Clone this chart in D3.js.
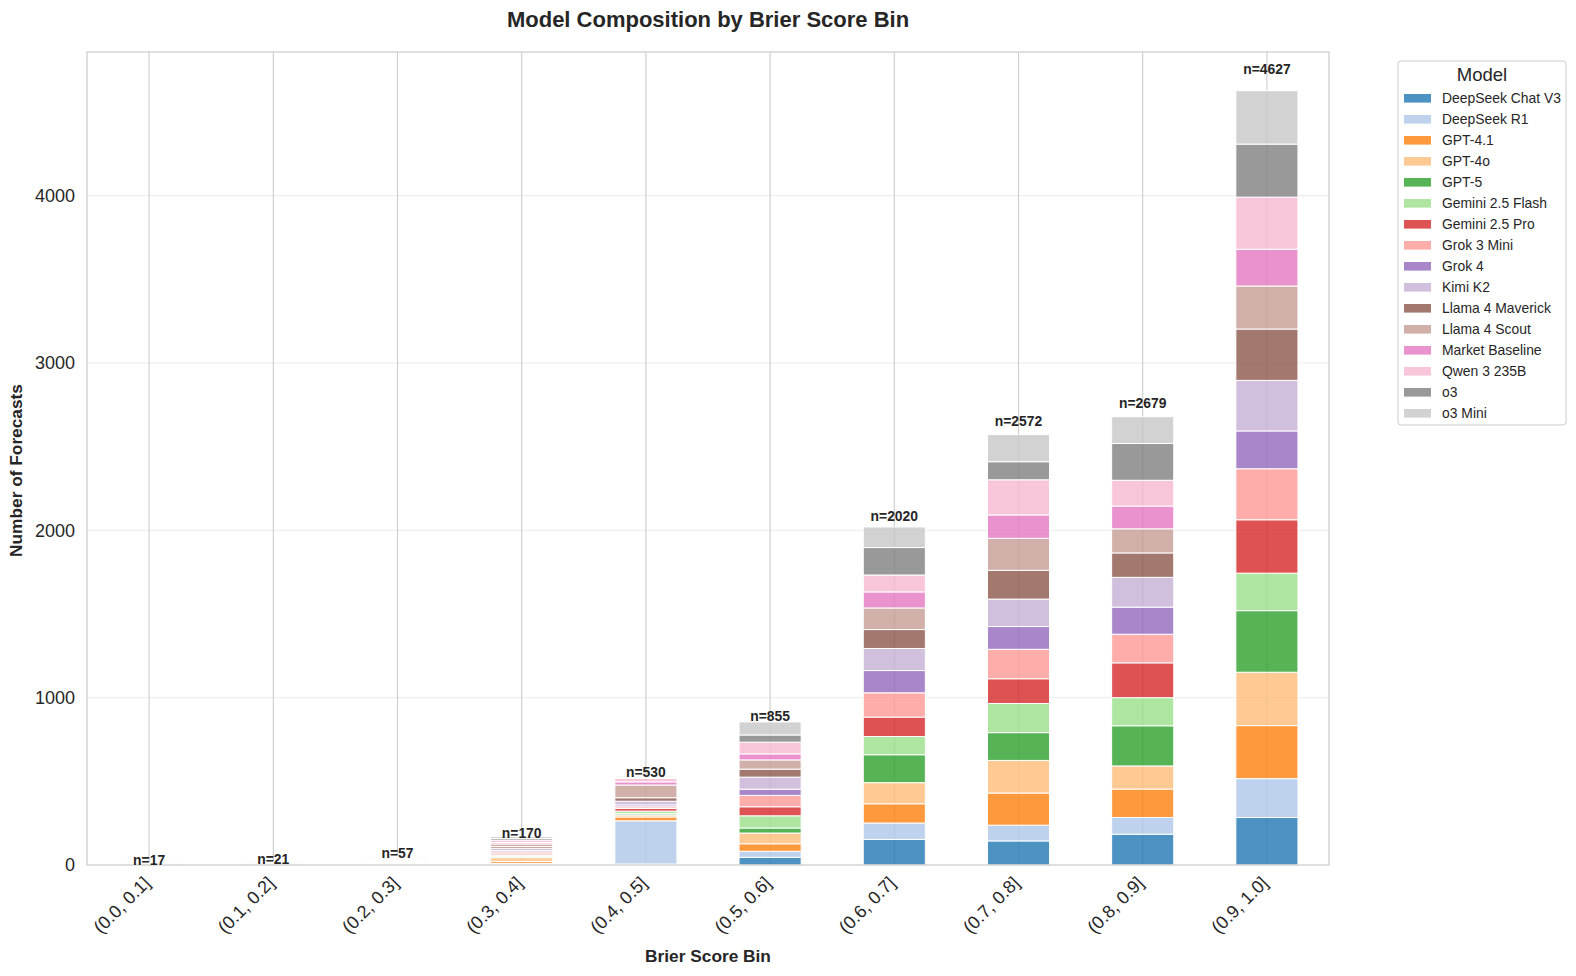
<!DOCTYPE html>
<html>
<head>
<meta charset="utf-8">
<script src="https://cdn.jsdelivr.net/npm/d3@7/dist/d3.min.js"></script>
<style>
  html, body { margin: 0; padding: 0; background: #fff; overflow: hidden; }
  svg { display: block; font-family: "Liberation Sans", Arial, sans-serif; }
</style>
</head>
<body>
<svg id="chart" width="1576" height="976"></svg>
<script>
// ---- data ----
const bins = ["(0.0, 0.1]", "(0.1, 0.2]", "(0.2, 0.3]", "(0.3, 0.4]", "(0.4, 0.5]",
              "(0.5, 0.6]", "(0.6, 0.7]", "(0.7, 0.8]", "(0.8, 0.9]", "(0.9, 1.0]"];
const models = ["DeepSeek Chat V3", "DeepSeek R1", "GPT-4.1", "GPT-4o", "GPT-5",
                "Gemini 2.5 Flash", "Gemini 2.5 Pro", "Grok 3 Mini", "Grok 4", "Kimi K2",
                "Llama 4 Maverick", "Llama 4 Scout", "Market Baseline", "Qwen 3 235B", "o3", "o3 Mini"];
const deepseekChatV3 = [0, 0, 0, 2, 6, 46, 153, 144, 184, 284];
const deepseekR1     = [0, 1, 2, 8, 258, 36, 98, 94, 100, 232];
const gpt41          = [1, 2, 4, 12, 23, 45, 115, 192, 170, 317];
const gpt4o          = [2, 2, 6, 22, 12, 64, 126, 195, 138, 319];
const gpt5           = [0, 1, 3, 8, 8, 30, 167, 166, 240, 368];
const geminiFlash    = [1, 1, 3, 6, 15, 73, 109, 174, 168, 224];
const geminiPro      = [1, 1, 3, 8, 16, 54, 116, 148, 208, 319];
const grok3Mini      = [1, 1, 4, 12, 10, 68, 145, 176, 171, 305];
const grok4          = [1, 1, 3, 8, 11, 37, 133, 136, 162, 226];
const kimiK2         = [2, 2, 5, 14, 22, 72, 132, 164, 178, 302];
const llamaMaverick  = [1, 2, 3, 10, 21, 48, 113, 172, 146, 307];
const llamaScout     = [2, 2, 5, 16, 76, 55, 129, 191, 144, 257];
const marketBaseline = [1, 1, 3, 8, 19, 36, 96, 140, 136, 220];
const qwen3          = [2, 2, 6, 14, 20, 70, 101, 210, 154, 311];
const o3             = [1, 1, 3, 10, 5, 43, 164, 108, 220, 317];
const o3Mini         = [1, 1, 4, 12, 8, 78, 123, 162, 160, 319];
const yTicks = [0, 1000, 2000, 3000, 4000];

const seriesValues = [deepseekChatV3, deepseekR1, gpt41, gpt4o, gpt5, geminiFlash, geminiPro,
  grok3Mini, grok4, kimiK2, llamaMaverick, llamaScout, marketBaseline, qwen3, o3, o3Mini];
const colors = ["#1f77b4", "#aec7e8", "#ff7f0e", "#ffbb78", "#2ca02c", "#98df8a", "#d62728", "#ff9896",
                "#9467bd", "#c5b0d5", "#8c564b", "#c49c94", "#e377c2", "#f7b6d2", "#7f7f7f", "#c7c7c7"];

// ---- build table ----
const table = bins.map((b, i) => {
  const row = { bin: b };
  models.forEach((m, j) => { row[m] = seriesValues[j][i]; });
  return row;
});
const totals = bins.map((b, i) => d3.sum(seriesValues, s => s[i]));
const stack = d3.stack().keys(models)(table);

// ---- layout ----
const svg = d3.select("#chart");
const L = 87, R = 1329, T = 52, B = 865;
const x = d3.scaleBand().domain(bins).range([L, R]).paddingInner(0.5).paddingOuter(0.25);
const yMax = d3.max(totals) * 1.05;
const y = d3.scaleLinear().domain([0, yMax]).range([B, T]);
const cx = d => x(d) + x.bandwidth() / 2;

// grid
const g = svg.append("g");
g.selectAll(".hgrid").data(yTicks.filter(t => t > 0)).join("line")
  .attr("x1", L).attr("x2", R).attr("y1", d => y(d)).attr("y2", d => y(d))
  .attr("stroke", "#ebebeb").attr("stroke-width", 1);
g.selectAll(".vgrid").data(bins).join("line")
  .attr("x1", cx).attr("x2", cx)
  .attr("y1", T).attr("y2", B)
  .attr("stroke", "#cccccc").attr("stroke-width", 1.1);

// bars
stack.forEach((layer, j) => {
  svg.append("g").selectAll("rect").data(layer).join("rect")
    .attr("x", d => x(d.data.bin))
    .attr("width", x.bandwidth())
    .attr("y", d => y(d[1]))
    .attr("height", d => Math.max(0, y(d[0]) - y(d[1])))
    .attr("fill", colors[j]).attr("fill-opacity", 0.8)
    .attr("stroke", "#ffffff").attr("stroke-width", 1);
});

// frame
svg.append("rect").attr("x", L).attr("y", T).attr("width", R - L).attr("height", B - T)
  .attr("fill", "none").attr("stroke", "#cccccc").attr("stroke-width", 1.25);

// n labels
svg.append("g").selectAll("text").data(bins).join("text")
  .attr("x", cx)
  .attr("y", (d, i) => y(totals[i] * 1.025 + 14))
  .attr("text-anchor", "middle").attr("dominant-baseline", "central")
  .attr("font-size", 13.9).attr("font-weight", "bold").attr("fill", "#262626")
  .text((d, i) => "n=" + totals[i]);

// y axis ticks
svg.append("g").selectAll("text").data(yTicks).join("text")
  .attr("x", L - 12).attr("y", d => y(d)).attr("dy", "0.35em")
  .attr("text-anchor", "end").attr("font-size", 18).attr("fill", "#262626")
  .text(d => d);

// x tick labels
svg.append("g").selectAll("text").data(bins).join("text")
  .attr("transform", d => `translate(${cx(d) - 7},${B + 10}) rotate(-45)`)
  .attr("text-anchor", "end").attr("dy", "0.72em")
  .attr("font-size", 18).attr("fill", "#262626")
  .text(d => d);

// axis titles
svg.append("text").attr("x", (L + R) / 2).attr("y", 962)
  .attr("text-anchor", "middle").attr("font-size", 17.3).attr("font-weight", "bold").attr("fill", "#262626")
  .text("Brier Score Bin");
svg.append("text").attr("transform", `translate(22,${(T + B) / 2 + 12}) rotate(-90)`)
  .attr("text-anchor", "middle").attr("font-size", 17.3).attr("font-weight", "bold").attr("fill", "#262626")
  .text("Number of Forecasts");
svg.append("text").attr("x", (L + R) / 2).attr("y", 27)
  .attr("text-anchor", "middle").attr("font-size", 22).attr("font-weight", "bold").attr("fill", "#262626")
  .text("Model Composition by Brier Score Bin");

// legend
const lg = svg.append("g");
lg.append("rect").attr("x", 1398).attr("y", 61).attr("width", 168).attr("height", 364)
  .attr("rx", 3).attr("fill", "#fff").attr("stroke", "#cccccc").attr("stroke-width", 1);
lg.append("text").attr("x", 1482).attr("y", 75).attr("dy", "0.35em")
  .attr("text-anchor", "middle").attr("font-size", 18.5).attr("fill", "#262626").text("Model");
const ly = d3.scalePoint().domain(models).range([98.3, 413.3]);
lg.selectAll(".sw").data(models).join("rect")
  .attr("x", 1404).attr("y", d => ly(d) - 4.3).attr("width", 27).attr("height", 8.6)
  .attr("fill", (d, i) => colors[i]).attr("fill-opacity", 0.8);
lg.selectAll(".lt").data(models).join("text")
  .attr("x", 1442).attr("y", d => ly(d)).attr("dy", "0.35em")
  .attr("font-size", 13.9).attr("fill", "#262626").text(d => d);
</script>
</body>
</html>
